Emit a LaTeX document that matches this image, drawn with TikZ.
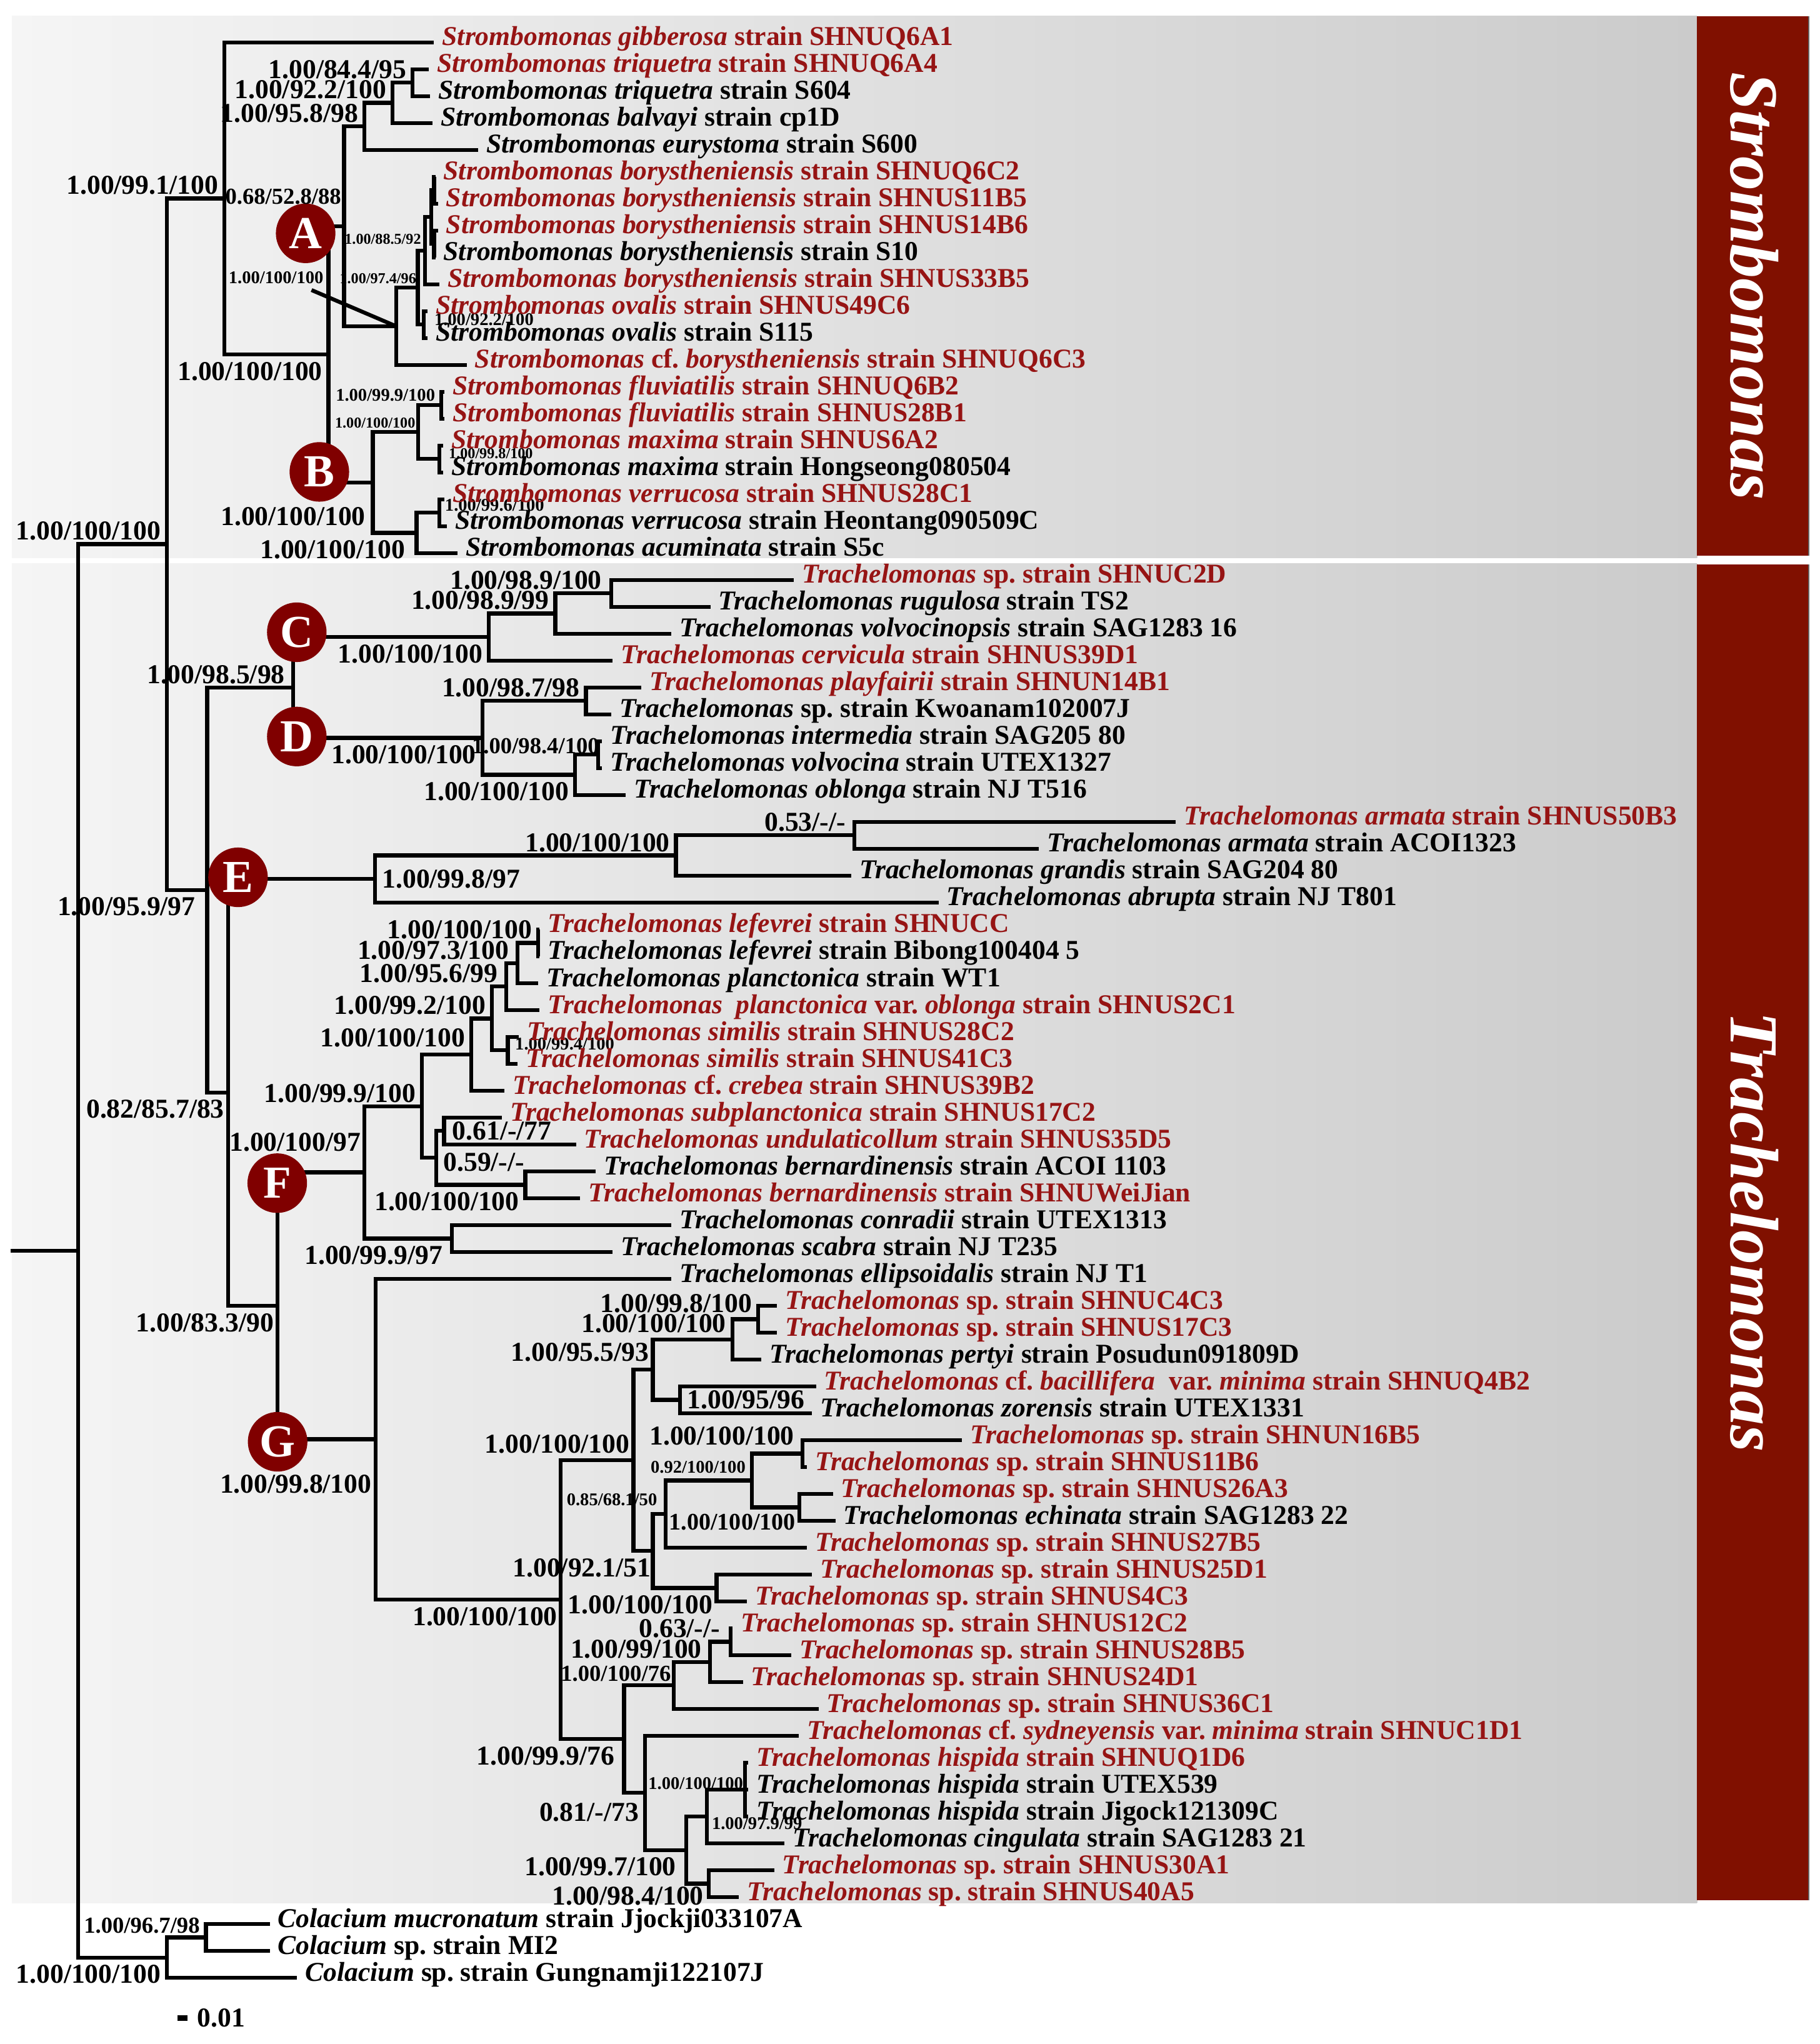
\documentclass[tikz,border=0pt]{standalone}
\usepackage{fontspec}
\setmainfont{Liberation Serif}
\frenchspacing

\definecolor{strainred}{RGB}{150,20,20}
\definecolor{cladered}{RGB}{128,0,0}
\definecolor{barred}{RGB}{128,16,0}
\definecolor{panelleft}{RGB}{245,245,245}
\definecolor{panelmid}{RGB}{230,230,230}
\definecolor{panelright}{RGB}{203,203,203}

\newcommand{\fsL}{\fontsize{11.9}{12}\selectfont\bfseries}
\newcommand{\fsM}{\fontsize{10}{10}\selectfont\bfseries}
\newcommand{\fsS}{\fontsize{7.8}{8}\selectfont\bfseries}
\newcommand{\fsT}{\fontsize{6.6}{7}\selectfont\bfseries}
\newcommand{\gen}[1]{\textit{#1}}

\begin{document}
\begin{tikzpicture}[x=0.02cm, y=-0.02cm,
    br/.style={line width=1.7pt},
    leaf/.style={anchor=base west, inner sep=0pt, xshift=3.4pt, yshift=-1.4pt, font=\fsL},
    leafr/.style={leaf, text=strainred},
    bsabove/.style={anchor=base east, inner sep=0pt, xshift=-2.5pt, yshift=1.8pt, font=\fsL},
    bsbelow/.style={anchor=north east, inner sep=0pt, xshift=-2.5pt, yshift=-3.1pt, font=\fsL},
    bsright/.style={anchor=west, inner sep=0pt, xshift=3pt, font=\fsL},
    clade/.style={circle, fill=cladered, text=white, inner sep=0pt, minimum size=26pt, font=\fontsize{20}{20}\selectfont\bfseries},
    genbar/.style={rotate=-90, text=white, font=\fontsize{30}{30}\selectfont\bfseries\itshape}]
    \useasboundingbox (0,0) rectangle (1396,1568);

    % panels and genus bars
    \shade[left color=panelleft, middle color=panelmid, right color=panelright] (9,12.4) rectangle (1302,428);
    \shade[left color=panelleft, middle color=panelmid, right color=panelright] (9,432.4) rectangle (1302,1459.7);
    \fill[barred] (1302,12.4) rectangle (1387,426.5);
    \fill[barred] (1302,433) rectangle (1387,1457.5);
    \draw[black!60, line width=0.5pt] (1387.5,12.4) -- (1387.5,426.5);
    \draw[black!60, line width=0.5pt] (1387.5,433) -- (1387.5,1457.5);
    \node[genbar] (strbar) at (1346,219.5) {Strombomonas};
    \node[genbar] (trabar) at (1346,945) {Trachelomonas};

    % leaf tips
    \foreach \i/\x in {1/333, 2/329, 3/330, 4/332, 5/367, 6/334, 7/336, 8/336, 9/334, 10/337,
        11/328, 12/328, 13/358, 14/341, 15/341, 16/340, 17/340, 18/341, 19/343, 20/351,
        21/609, 22/545, 23/515, 24/470, 25/492, 26/469, 27/462, 28/462, 29/480, 30/902,
        31/797, 32/653, 33/720, 34/414, 35/414, 36/413, 37/414, 38/398, 39/397, 40/387,
        41/385, 42/442, 43/457, 44/445, 45/515, 46/470, 47/515, 48/596, 49/596, 50/584,
        51/626, 52/623, 53/738, 54/619, 55/639, 56/641, 57/619, 58/623, 59/573, 60/562,
        61/607, 62/570, 63/628, 64/613, 65/574, 66/574, 67/574, 68/602, 69/594, 70/567,
        71/207, 72/207, 73/228}
        \coordinate (l\i) at (\x, {32.5+20.62*(\i-1)});

    % inner nodes, Strombomonas
    \coordinate (s84) at (316.5,63.4);
    \coordinate (s92) at (301,78.9);
    \coordinate (s95) at (279.5,96.95);
    \coordinate (k1) at (333,145.9);
    \coordinate (k2) at (333,187.15);
    \coordinate (k) at (331,166.5);
    \coordinate (s88) at (326,192.3);
    \coordinate (sov) at (325,249);
    \coordinate (s97) at (320.5,220.65);
    \coordinate (sA2) at (304,250.3);
    \coordinate (nA) at (264,173.6);
    \coordinate (sfl) at (338.5,310.9);
    \coordinate (smx) at (337,352.1);
    \coordinate (sB1) at (320.7,331.5);
    \coordinate (svr) at (337,393.35);
    \coordinate (sB2) at (319.6,408.8);
    \coordinate (nB) at (286,370.15);
    \coordinate (nAB) at (252,271.9);
    \coordinate (nS) at (172,152.2);

    % inner nodes, Trachelomonas
    \coordinate (c1) at (469,455.2);
    \coordinate (c2) at (426,470.65);
    \coordinate (nC) at (375,488.7);
    \coordinate (d1) at (449.5,537.7);
    \coordinate (d2) at (459,578.9);
    \coordinate (d3) at (441,594.4);
    \coordinate (nD) at (370,566.05);
    \coordinate (nCD) at (225,527.4);
    \coordinate (e1) at (655.6,640.8);
    \coordinate (e2) at (518.6,656.25);
    \coordinate (nE) at (287.6,674.3);
    \coordinate (f1) at (412.8,723.3);
    \coordinate (f2) at (397,738.75);
    \coordinate (f3) at (388.3,756.8);
    \coordinate (f4) at (389.6,805.75);
    \coordinate (f5) at (377.3,781.3);
    \coordinate (f6) at (361.5,809);
    \coordinate (f7) at (340.7,867.6);
    \coordinate (f8) at (403,908.85);
    \coordinate (f9) at (334.6,888.2);
    \coordinate (f10) at (323.6,848.6);
    \coordinate (f11) at (346.8,950.1);
    \coordinate (nF) at (279.6,899.35);
    \coordinate (g1) at (581.5,1011.95);
    \coordinate (g2) at (561.8,1027.4);
    \coordinate (g3) at (521.6,1073.8);
    \coordinate (g4) at (500.8,1050.6);
    \coordinate (g5) at (615.8,1115.05);
    \coordinate (g6) at (613.3,1156.3);
    \coordinate (g7) at (576.7,1135.7);
    \coordinate (g8) at (510.6,1161.45);
    \coordinate (g9) at (549.7,1218.15);
    \coordinate (g10) at (500.8,1189.8);
    \coordinate (g11) at (486,1120.2);
    \coordinate (g12) at (560.7,1259.4);
    \coordinate (g13) at (544.8,1274.85);
    \coordinate (g14) at (516.8,1292.9);
    \coordinate (g15) at (571.7,1372.8);
    \coordinate (g16) at (542.3,1393.4);
    \coordinate (g17) at (543.6,1445);
    \coordinate (g18) at (526.4,1419.2);
    \coordinate (g19) at (494.7,1375.4);
    \coordinate (g20) at (478.8,1334.15);
    \coordinate (g21) at (430,1227.2);
    \coordinate (nG) at (288,1104.1);
    \coordinate (nFG) at (213,1001.7);
    \coordinate (nEFG) at (175,838);
    \coordinate (nTr) at (159,682.7);
    \coordinate (nST) at (128,417.45);
    \coordinate (co1) at (158,1486.2);
    \coordinate (nCo) at (128,1501.65);
    \coordinate (root) at (60,959.55);
    \coordinate (stub) at (8,959.55);

    % branches
    \foreach \p/\c in {nS/l1, nS/nAB, nAB/nA, nAB/nB, nA/s95, nA/sA2, s95/s92, s95/l5,
        s92/s84, s92/l4, s84/l2, s84/l3, sA2/s97, sA2/l13, s97/s88, s97/sov, s88/k, s88/l10,
        k/k1, k/k2, k1/l6, k1/l7, k2/l8, k2/l9, sov/l11, sov/l12, nB/sB1, nB/sB2,
        sB1/sfl, sB1/smx, sfl/l14, sfl/l15, smx/l16, smx/l17, sB2/svr, sB2/l20, svr/l18, svr/l19}
        \draw[br] (\p) |- (\c);
    \foreach \p/\c in {nST/nS, nST/nTr, nTr/nCD, nTr/nEFG, nCD/nC, nCD/nD, nC/c2, nC/l24,
        c2/c1, c2/l23, c1/l21, c1/l22, nD/d1, nD/d3, d1/l25, d1/l26, d3/d2, d3/l29, d2/l27, d2/l28,
        nEFG/nE, nEFG/nFG, nE/e2, nE/l33, e2/e1, e2/l32, e1/l30, e1/l31,
        nFG/nF, nFG/nG, nF/f10, nF/f11, f10/f6, f10/f9, f6/f5, f6/l40, f5/f3, f5/f4,
        f3/f2, f3/l37, f2/f1, f2/l36, f1/l34, f1/l35, f4/l38, f4/l39, f9/f7, f9/f8,
        f7/l41, f7/l42, f8/l43, f8/l44, f11/l45, f11/l46}
        \draw[br] (\p) |- (\c);
    \foreach \p/\c in {nG/l47, nG/g21, g21/g11, g21/g20, g11/g4, g11/g10, g4/g2, g4/g3,
        g2/g1, g2/l50, g1/l48, g1/l49, g3/l51, g3/l52, g10/g8, g10/g9, g8/g7, g8/l57,
        g7/g5, g7/g6, g5/l53, g5/l54, g6/l55, g6/l56, g9/l58, g9/l59, g20/g14, g20/g19,
        g14/g13, g14/l63, g13/g12, g13/l62, g12/l60, g12/l61, g19/l64, g19/g18,
        g18/g16, g18/g17, g16/g15, g16/l68, g15/l65, g15/l66, g15/l67, g17/l69, g17/l70,
        root/nST, root/nCo, nCo/co1, nCo/l73, co1/l71, co1/l72}
        \draw[br] (\p) |- (\c);
    \draw[br] (stub) -- (root);

    % clade marks
    \node[clade] (cA) at (234.5,179) {A};
    \node[clade] (cB) at (245,362) {B};
    \node[clade] (cC) at (227.7,485) {C};
    \node[clade] (cD) at (227.7,565) {D};
    \node[clade] (cE) at (182.6,673) {E};
    \node[clade] (cF) at (212.7,907.6) {F};
    \node[clade] (cG) at (213,1106) {G};

    % support values, Strombomonas
    \node[bsabove] (bnS) at (nS) {1.00/99.1/100};
    \node[bsabove] (bs84) at (s84) {1.00/84.4/95};
    \node[bsabove] (bs92) at (s92) {1.00/92.2/100};
    \node[bsabove] (bs95) at (s95) {1.00/95.8/98};
    \node[bsabove, font=\fsM, xshift=1.4pt, yshift=7.8pt] (bnA) at (nA) {0.68/52.8/88};
    \node[bsabove, font=\fsT, xshift=1pt, yshift=1pt] (bs88) at (s88) {1.00/88.5/92};
    \node[bsabove, font=\fsT, xshift=2pt] (bs97) at (s97) {1.00/97.4/96};
    \node[bsright, font=\fsS, xshift=1.5pt, yshift=2.3pt] (bsov) at (sov) {1.00/92.2/100};
    \node[bsabove, font=\fsS, xshift=-29.1pt, yshift=16.8pt] (bsA2) at (sA2) {1.00/100/100};
    \coordinate (ptrA) at (239,222.5);
    \draw[br] (ptrA) -- (sA2);
    \node[bsbelow] (bnAB) at (nAB) {1.00/100/100};
    \node[bsabove, font=\fsS] (bsfl) at (sfl) {1.00/99.9/100};
    \node[bsright, font=\fsT, xshift=1pt, yshift=2.5pt] (bsmx) at (smx) {1.00/99.8/100};
    \node[bsabove, font=\fsT, xshift=1.5pt] (bsB1) at (sB1) {1.00/100/100};
    \node[bsbelow, xshift=-0.5pt, yshift=-7.6pt] (bnB) at (nB) {1.00/100/100};
    \node[bsright, font=\fsS, xshift=-0.7pt, yshift=3.3pt] (bsvr) at (svr) {1.00/99.6/100};
    \node[bsbelow, xshift=-2.4pt] (bsB2) at (sB2) {1.00/100/100};

    % support values, Trachelomonas
    \node[bsabove] (bnST) at (nST) {1.00/100/100};
    \node[bsbelow, xshift=-2.5pt] (bnTr) at (nTr) {1.00/95.9/97};
    \node[bsabove, xshift=-1pt] (bnCD) at (nCD) {1.00/98.5/98};
    \node[bsabove, xshift=-1.5pt] (bc1) at (c1) {1.00/98.9/100};
    \node[bsabove] (bc2) at (c2) {1.00/98.9/99};
    \node[bsbelow] (bnC) at (nC) {1.00/100/100};
    \node[bsabove] (bd1) at (d1) {1.00/98.7/98};
    \node[bsabove, font=\fsM, xshift=3.1pt, yshift=-1.3pt] (bd2) at (d2) {1.00/98.4/100};
    \node[bsbelow] (bd3) at (d3) {1.00/100/100};
    \node[bsbelow] (bnD) at (nD) {1.00/100/100};
    \node[bsabove, xshift=-1.2pt] (be1) at (e1) {0.53/-/-};
    \node[bsabove] (be2) at (e2) {1.00/100/100};
    \node[bsright] (bnE) at (nE) {1.00/99.8/97};
    \node[bsbelow, xshift=1pt] (bnEFG) at (nEFG) {0.82/85.7/83};
    \node[bsabove] (bf1) at (f1) {1.00/100/100};
    \node[bsabove, xshift=-1pt] (bf2) at (f2) {1.00/97.3/100};
    \node[bsabove, xshift=-1pt] (bf3) at (f3) {1.00/95.6/99};
    \node[bsabove] (bf5) at (f5) {1.00/99.2/100};
    \node[bsright, font=\fsS, yshift=2.8pt] (bf4) at (f4) {1.00/99.4/100};
    \node[bsabove, yshift=1.6pt] (bf6) at (f6) {1.00/100/100};
    \node[bsabove] (bf10) at (f10) {1.00/99.9/100};
    \node[bsright, xshift=0.4pt] (bf7) at (f7) {0.61/-/77};
    \node[bsright, yshift=-2pt] (bf9) at (f9) {0.59/-/-};
    \node[bsbelow] (bf8) at (f8) {1.00/100/100};
    \node[bsabove, xshift=1pt, yshift=7.4pt] (bnF) at (nF) {1.00/100/97};
    \node[bsbelow, xshift=-1.5pt] (bf11) at (f11) {1.00/99.9/97};
    \node[bsbelow, xshift=1pt] (bnFG) at (nFG) {1.00/83.3/90};
    \node[bsbelow, xshift=1pt, yshift=-12.2pt] (bnG) at (nG) {1.00/99.8/100};
    \node[bsabove, yshift=1.2pt] (bg1) at (g1) {1.00/99.8/100};
    \node[bsabove, yshift=1.2pt] (bg2) at (g2) {1.00/100/100};
    \node[bsabove, xshift=1pt, yshift=2pt] (bg4) at (g4) {1.00/95.5/93};
    \node[bsright] (bg3) at (g3) {1.00/95/96};
    \node[bsabove, xshift=1pt, yshift=1.5pt] (bg11) at (g11) {1.00/100/100};
    \node[bsabove, xshift=-1pt, yshift=2pt] (bg5) at (g5) {1.00/100/100};
    \node[bsabove, font=\fsS, yshift=1.4pt] (bg7) at (g7) {0.92/100/100};
    \node[bsbelow, font=\fontsize{10.4}{11}\selectfont\bfseries, xshift=1pt, yshift=0.4pt] (bg6) at (g6) {1.00/100/100};
    \node[bsabove, font=\fsS, xshift=-1pt, yshift=2pt] (bg8) at (g8) {0.85/68.1/50};
    \node[bsbelow, xshift=1.8pt] (bg10) at (g10) {1.00/92.1/51};
    \node[bsbelow, xshift=1pt] (bg9) at (g9) {1.00/100/100};
    \node[bsbelow, xshift=1.3pt] (bg21) at (g21) {1.00/100/100};
    \node[bsabove, xshift=-2pt] (bg12) at (g12) {0.63/-/-};
    \node[bsabove, xshift=-1pt] (bg13) at (g13) {1.00/99/100};
    \node[bsabove, font=\fsM, xshift=1.5pt] (bg14) at (g14) {1.00/100/76};
    \node[bsbelow, xshift=-1.5pt] (bg20) at (g20) {1.00/99.9/76};
    \node[bsbelow, yshift=-1pt] (bg19) at (g19) {0.81/-/73};
    \node[bsabove, font=\fsS, xshift=1.8pt, yshift=-1.8pt] (bg15) at (g15) {1.00/100/100};
    \node[bsright, font=\fsS, xshift=-1pt, yshift=-3.2pt] (bg16) at (g16) {1.00/97.9/99};
    \node[bsbelow, xshift=-1.7pt] (bg18) at (g18) {1.00/99.7/100};
    \node[bsbelow, xshift=0.5pt, yshift=2pt] (bg17) at (g17) {1.00/98.4/100};
    \node[bsabove, font=\fsM] (bco1) at (co1) {1.00/96.7/98};
    \node[bsbelow] (bnCo) at (nCo) {1.00/100/100};

    % strain names
    \node[leafr] (t1) at (l1) {\gen{Strombomonas gibberosa} strain SHNUQ6A1};
    \node[leafr] (t2) at (l2) {\gen{Strombomonas triquetra} strain SHNUQ6A4};
    \node[leaf] (t3) at (l3) {\gen{Strombomonas triquetra} strain S604};
    \node[leaf] (t4) at (l4) {\gen{Strombomonas balvayi} strain cp1D};
    \node[leaf] (t5) at (l5) {\gen{Strombomonas eurystoma} strain S600};
    \node[leafr] (t6) at (l6) {\gen{Strombomonas borystheniensis} strain SHNUQ6C2};
    \node[leafr] (t7) at (l7) {\gen{Strombomonas borystheniensis} strain SHNUS11B5};
    \node[leafr] (t8) at (l8) {\gen{Strombomonas borystheniensis} strain SHNUS14B6};
    \node[leaf] (t9) at (l9) {\gen{Strombomonas borystheniensis} strain S10};
    \node[leafr] (t10) at (l10) {\gen{Strombomonas borystheniensis} strain SHNUS33B5};
    \node[leafr] (t11) at (l11) {\gen{Strombomonas ovalis} strain SHNUS49C6};
    \node[leaf] (t12) at (l12) {\gen{Strombomonas ovalis} strain S115};
    \node[leafr] (t13) at (l13) {\gen{Strombomonas} cf. \gen{borystheniensis} strain SHNUQ6C3};
    \node[leafr] (t14) at (l14) {\gen{Strombomonas fluviatilis} strain SHNUQ6B2};
    \node[leafr] (t15) at (l15) {\gen{Strombomonas fluviatilis} strain SHNUS28B1};
    \node[leafr] (t16) at (l16) {\gen{Strombomonas maxima} strain SHNUS6A2};
    \node[leaf] (t17) at (l17) {\gen{Strombomonas maxima} strain Hongseong080504};
    \node[leafr] (t18) at (l18) {\gen{Strombomonas verrucosa} strain SHNUS28C1};
    \node[leaf] (t19) at (l19) {\gen{Strombomonas verrucosa} strain Heontang090509C};
    \node[leaf] (t20) at (l20) {\gen{Strombomonas acuminata} strain S5c};
    \node[leafr] (t21) at (l21) {\gen{Trachelomonas} sp. strain SHNUC2D};
    \node[leaf] (t22) at (l22) {\gen{Trachelomonas rugulosa} strain TS2};
    \node[leaf] (t23) at (l23) {\gen{Trachelomonas volvocinopsis} strain SAG1283 16};
    \node[leafr] (t24) at (l24) {\gen{Trachelomonas cervicula} strain SHNUS39D1};
    \node[leafr] (t25) at (l25) {\gen{Trachelomonas playfairii} strain SHNUN14B1};
    \node[leaf] (t26) at (l26) {\gen{Trachelomonas} sp. strain Kwoanam102007J};
    \node[leaf] (t27) at (l27) {\gen{Trachelomonas intermedia} strain SAG205 80};
    \node[leaf] (t28) at (l28) {\gen{Trachelomonas volvocina} strain UTEX1327};
    \node[leaf] (t29) at (l29) {\gen{Trachelomonas oblonga} strain NJ T516};
    \node[leafr] (t30) at (l30) {\gen{Trachelomonas armata} strain SHNUS50B3};
    \node[leaf] (t31) at (l31) {\gen{Trachelomonas armata} strain ACOI1323};
    \node[leaf] (t32) at (l32) {\gen{Trachelomonas grandis} strain SAG204 80};
    \node[leaf] (t33) at (l33) {\gen{Trachelomonas abrupta} strain NJ T801};
    \node[leafr] (t34) at (l34) {\gen{Trachelomonas lefevrei} strain SHNUCC};
    \node[leaf] (t35) at (l35) {\gen{Trachelomonas lefevrei} strain Bibong100404 5};
    \node[leaf] (t36) at (l36) {\gen{Trachelomonas planctonica} strain WT1};
    \node[leafr] (t37) at (l37) {\gen{Trachelomonas}\ \ \gen{planctonica} var. \gen{oblonga} strain SHNUS2C1};
    \node[leafr] (t38) at (l38) {\gen{Trachelomonas similis} strain SHNUS28C2};
    \node[leafr] (t39) at (l39) {\gen{Trachelomonas similis} strain SHNUS41C3};
    \node[leafr] (t40) at (l40) {\gen{Trachelomonas} cf. \gen{crebea} strain SHNUS39B2};
    \node[leafr] (t41) at (l41) {\gen{Trachelomonas subplanctonica} strain SHNUS17C2};
    \node[leafr] (t42) at (l42) {\gen{Trachelomonas undulaticollum} strain SHNUS35D5};
    \node[leaf] (t43) at (l43) {\gen{Trachelomonas bernardinensis} strain ACOI 1103};
    \node[leafr] (t44) at (l44) {\gen{Trachelomonas bernardinensis} strain SHNUWeiJian};
    \node[leaf] (t45) at (l45) {\gen{Trachelomonas conradii} strain UTEX1313};
    \node[leaf] (t46) at (l46) {\gen{Trachelomonas scabra} strain NJ T235};
    \node[leaf] (t47) at (l47) {\gen{Trachelomonas ellipsoidalis} strain NJ T1};
    \node[leafr] (t48) at (l48) {\gen{Trachelomonas} sp. strain SHNUC4C3};
    \node[leafr] (t49) at (l49) {\gen{Trachelomonas} sp. strain SHNUS17C3};
    \node[leaf] (t50) at (l50) {\gen{Trachelomonas pertyi} strain Posudun091809D};
    \node[leafr] (t51) at (l51) {\gen{Trachelomonas} cf. \gen{bacillifera}\ \ var. \gen{minima} strain SHNUQ4B2};
    \node[leaf] (t52) at (l52) {\gen{Trachelomonas zorensis} strain UTEX1331};
    \node[leafr] (t53) at (l53) {\gen{Trachelomonas} sp. strain SHNUN16B5};
    \node[leafr] (t54) at (l54) {\gen{Trachelomonas} sp. strain SHNUS11B6};
    \node[leafr] (t55) at (l55) {\gen{Trachelomonas} sp. strain SHNUS26A3};
    \node[leaf] (t56) at (l56) {\gen{Trachelomonas echinata} strain SAG1283 22};
    \node[leafr] (t57) at (l57) {\gen{Trachelomonas} sp. strain SHNUS27B5};
    \node[leafr] (t58) at (l58) {\gen{Trachelomonas} sp. strain SHNUS25D1};
    \node[leafr] (t59) at (l59) {\gen{Trachelomonas} sp. strain SHNUS4C3};
    \node[leafr] (t60) at (l60) {\gen{Trachelomonas} sp. strain SHNUS12C2};
    \node[leafr] (t61) at (l61) {\gen{Trachelomonas} sp. strain SHNUS28B5};
    \node[leafr] (t62) at (l62) {\gen{Trachelomonas} sp. strain SHNUS24D1};
    \node[leafr] (t63) at (l63) {\gen{Trachelomonas} sp. strain SHNUS36C1};
    \node[leafr] (t64) at (l64) {\gen{Trachelomonas} cf. \gen{sydneyensis} var. \gen{minima} strain SHNUC1D1};
    \node[leafr] (t65) at (l65) {\gen{Trachelomonas hispida} strain SHNUQ1D6};
    \node[leaf] (t66) at (l66) {\gen{Trachelomonas hispida} strain UTEX539};
    \node[leaf] (t67) at (l67) {\gen{Trachelomonas hispida} strain Jigock121309C};
    \node[leaf] (t68) at (l68) {\gen{Trachelomonas cingulata} strain SAG1283 21};
    \node[leafr] (t69) at (l69) {\gen{Trachelomonas} sp. strain SHNUS30A1};
    \node[leafr] (t70) at (l70) {\gen{Trachelomonas} sp. strain SHNUS40A5};
    \node[leaf] (t71) at (l71) {\gen{Colacium mucronatum} strain Jjockji033107A};
    \node[leaf] (t72) at (l72) {\gen{Colacium} sp. strain MI2};
    \node[leaf] (t73) at (l73) {\gen{Colacium} sp. strain Gungnamji122107J};

    % scale bar
    \coordinate (sb1) at (136,1548);
    \coordinate (sb2) at (144,1548);
    \draw[line width=2.4pt] (sb1) -- (sb2);
    \node[anchor=west, inner sep=0pt, xshift=4pt, font=\fsL] (sbl) at (sb2) {0.01};
\end{tikzpicture}
\end{document}
